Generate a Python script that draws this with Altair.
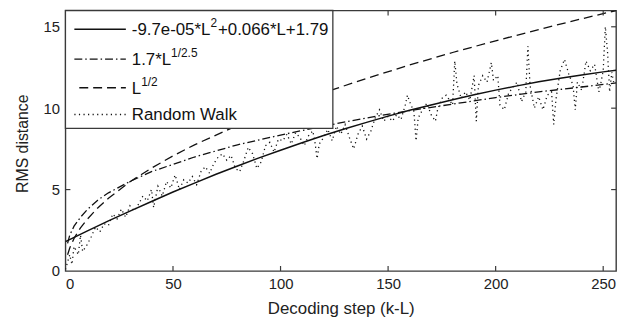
import altair as alt
import pandas as pd

# ---- data ----
fit_L = [0, 10, 20, 30, 40, 50, 60, 70, 80, 90, 100, 110, 120, 130, 140, 150,
         160, 170, 180, 190, 200, 210, 220, 230, 240, 250, 256]
fit_vals = [1.8, 2.45, 3.08, 3.68, 4.27, 4.85, 5.4, 5.94, 6.45, 6.95, 7.42, 7.88,
            8.32, 8.74, 9.13, 9.51, 9.87, 10.2, 10.52, 10.83, 11.11, 11.37, 11.62,
            11.84, 12.04, 12.23, 12.33]

pow_L = [1, 2, 4, 7, 10, 15, 20, 30, 40, 50, 60, 80, 100, 120, 140, 160, 180,
         200, 220, 240, 256]
pow25_vals = [1.7, 2.2, 2.75, 3.3, 3.75, 4.35, 4.8, 5.5, 6.1, 6.55, 7.0, 7.75,
              8.35, 8.9, 9.4, 9.85, 10.25, 10.65, 11.0, 11.3, 11.55]
sqrt_vals = [1.0, 1.41, 2.0, 2.65, 3.16, 3.87, 4.47, 5.48, 6.32, 7.07, 7.75, 8.94,
             10.0, 10.95, 11.83, 12.65, 13.42, 14.14, 14.83, 15.49, 16.0]

rw_L = [0, 2, 3, 4, 6, 7, 8, 10, 12, 14, 16, 18, 20, 22, 24, 26, 28, 30, 32, 34,
        36, 38, 40, 41, 43, 45, 47, 49, 51, 53, 55, 57, 59, 61, 63, 65, 67, 69,
        71, 73, 75, 77, 79, 81, 83, 85, 87, 89, 91, 93, 95, 97, 99, 101, 103,
        105, 107, 109, 111, 113, 115, 116, 117, 118, 120, 122, 124, 126, 128,
        130, 132, 134, 136, 138, 140, 142, 144, 146, 148, 150, 152, 154, 156,
        158, 159, 160, 162, 163, 164, 166, 168, 170, 172, 173, 175, 177, 179,
        180, 181, 182, 184, 186, 188, 190, 191, 192, 194, 196, 198, 199, 201,
        202, 204, 206, 208, 210, 212, 214, 215, 216, 218, 220, 222, 224, 226,
        227, 228, 230, 232, 234, 236, 237, 238, 240, 242, 244, 246, 248, 249,
        250, 251, 252, 253, 254, 255]
rw_vals = [0.1, 1.0, 0.4, 1.5, 1.0, 2.2, 1.2, 1.6, 2.1, 2.7, 2.4, 2.9, 2.8, 3.5,
           3.2, 3.8, 3.3, 4.0, 3.7, 4.1, 4.6, 4.3, 5.0, 3.9, 5.2, 4.6, 5.5, 5.1,
           5.9, 5.0, 5.6, 5.4, 5.8, 5.3, 6.1, 6.4, 6.0, 6.6, 7.0, 7.2, 6.8, 7.1,
           6.3, 6.1, 6.8, 7.6, 7.2, 6.3, 6.7, 7.7, 7.9, 7.3, 8.1, 8.0, 8.4, 7.8,
           8.5, 8.2, 7.7, 8.3, 8.6, 7.9, 6.9, 7.8, 8.2, 8.7, 8.0, 8.9, 8.4, 9.0,
           8.2, 7.5, 8.4, 8.9, 8.1, 8.6, 9.4, 9.9, 9.2, 9.5, 9.2, 9.6, 9.3, 10.2,
           10.8, 10.4, 9.8, 8.0, 9.4, 9.9, 10.3, 9.6, 9.2, 9.9, 10.6, 10.8, 10.4,
           10.2, 12.9, 11.5, 10.6, 11.0, 10.5, 12.0, 9.2, 11.4, 12.0, 11.6, 12.8,
           11.7, 12.0, 10.2, 9.9, 10.9, 11.3, 11.6, 10.4, 11.0, 13.8, 11.4, 10.0,
           10.7, 9.9, 10.8, 11.0, 9.0, 10.5, 12.3, 13.0, 12.1, 11.4, 9.9, 11.6,
           11.1, 12.9, 12.3, 12.7, 11.0, 11.6, 12.3, 15.0, 13.5, 11.0, 12.2, 11.5]

x_ticks = [0, 50, 100, 150, 200, 250]
y_ticks = [0, 5, 10, 15]
x_inner_ticks = [50, 100, 150, 200, 250]
y_inner_ticks = [5, 10, 15]

x_title = "Decoding step (k-L)"
y_title = "RMS distance"

legend_main = ["-9.7e-05*L", "1.7*L", "L", "Random Walk"]
legend_sup = ["2", "1/2.5", "1/2"]
legend_tail = "+0.066*L+1.79"

# ---- styling ----
W, H = 556, 263
FONT = "Liberation Sans"
INK = "#111111"
FRAME = "#3a3a3a"
DOT = [1.2, 3.4]

xs = alt.Scale(domain=[0, 256], nice=False, zero=False)
ys = alt.Scale(domain=[0, 16], nice=False, zero=False)

x_axis = alt.Axis(values=x_ticks, ticks=False, domain=False, grid=False,
                  labelFontSize=15, labelPadding=6, labelColor="#222",
                  labelFont=FONT, title=x_title, titleFontSize=17,
                  titleFont=FONT, titleFontWeight="normal", titleColor="#222",
                  titlePadding=9)
y_axis = alt.Axis(values=y_ticks, ticks=False, domain=False, grid=False,
                  labelFontSize=15, labelPadding=6, labelColor="#222",
                  labelFont=FONT, title=y_title, titleFontSize=16,
                  titleFont=FONT, titleFontWeight="normal", titleColor="#222",
                  titleX=-43, titleY=134, titleAngle=-90, titleAlign="center",
                  titleBaseline="middle")

df_fit = pd.DataFrame({"L": fit_L, "v": fit_vals})
df_p25 = pd.DataFrame({"L": pow_L, "v": pow25_vals})
df_sqrt = pd.DataFrame({"L": pow_L, "v": sqrt_vals})
df_rw = pd.DataFrame({"L": rw_L, "v": rw_vals})


def curve(df, dash, width):
    kw = dict(color=INK, strokeWidth=width, clip=True)
    if dash:
        kw["strokeDash"] = dash
    return alt.Chart(df).mark_line(**kw).encode(
        x=alt.X("L:Q", scale=xs, axis=x_axis, title=x_title),
        y=alt.Y("v:Q", scale=ys, axis=y_axis, title=y_title),
    )


rw = curve(df_rw, DOT, 1.3)
sol = curve(df_fit, None, 1.5)
dd = curve(df_p25, [8, 3, 1.5, 3], 1.3)
da = curve(df_sqrt, [9, 5], 1.3)

# inward MATLAB-style ticks
dxt = pd.DataFrame({"L": x_inner_ticks})
dyt = pd.DataFrame({"v": y_inner_ticks})
tick_kw = dict(color=FRAME, strokeWidth=1.2)
X_ENC = alt.X("L:Q", scale=xs, axis=x_axis, title=x_title)
Y_ENC = alt.Y("v:Q", scale=ys, axis=y_axis, title=y_title)
tb = alt.Chart(dxt).mark_rule(**tick_kw).encode(
    x=X_ENC, y=alt.value(H), y2=alt.value(H - 5))
tt = alt.Chart(dxt).mark_rule(**tick_kw).encode(
    x=X_ENC, y=alt.value(0), y2=alt.value(5))
tl = alt.Chart(dyt).mark_rule(**tick_kw).encode(
    y=Y_ENC, x=alt.value(0), x2=alt.value(5))
tr = alt.Chart(dyt).mark_rule(**tick_kw).encode(
    y=Y_ENC, x=alt.value(W), x2=alt.value(W - 5))

# legend box
one = pd.DataFrame({"k": [0]})
box = alt.Chart(one).mark_rect(fill="white", stroke=FRAME, strokeWidth=1.3).encode(
    x=alt.value(0), x2=alt.value(270), y=alt.value(0), y2=alt.value(119))

rows_y = [19, 49, 78, 105]
sample_x0 = [9, 9, 14, 9]
sample_dash = [None, [8, 3, 1.5, 3], [9, 5], DOT]
sample_w = [1.5, 1.3, 1.3, 1.3]

legend_layers = [box]
for i in range(4):
    kw = dict(color=INK, strokeWidth=sample_w[i])
    if sample_dash[i]:
        kw["strokeDash"] = sample_dash[i]
    legend_layers.append(
        alt.Chart(one).mark_rule(**kw).encode(
            x=alt.value(sample_x0[i]), x2=alt.value(61), y=alt.value(rows_y[i])))

txt_kw = dict(font=FONT, color="#111", align="left", baseline="middle")
main_x = 67
for i, lab in enumerate(legend_main):
    legend_layers.append(
        alt.Chart(pd.DataFrame({"s": [lab]})).mark_text(fontSize=17, **txt_kw).encode(
            text="s:N", x=alt.value(main_x), y=alt.value(rows_y[i] + 1)))

sup_x = [146.5, 106.7, 76.5]
for i, lab in enumerate(legend_sup):
    legend_layers.append(
        alt.Chart(pd.DataFrame({"s": [lab]})).mark_text(fontSize=12, **txt_kw).encode(
            text="s:N", x=alt.value(sup_x[i]), y=alt.value(rows_y[i] - 6)))

legend_layers.append(
    alt.Chart(pd.DataFrame({"s": [legend_tail]})).mark_text(fontSize=17, **txt_kw).encode(
        text="s:N", x=alt.value(154), y=alt.value(rows_y[0] + 1)))

chart = alt.layer(rw, sol, dd, da, tb, tt, tl, tr, *legend_layers).properties(
    width=W, height=H,
    autosize=alt.AutoSizeParams(type="none"),
    padding={"left": 58, "top": 1, "right": 10, "bottom": 50},
    background="white",
).configure_view(stroke=FRAME, strokeWidth=1.4)

chart.save("out.html", embed_options={"renderer": "svg", "actions": False})
